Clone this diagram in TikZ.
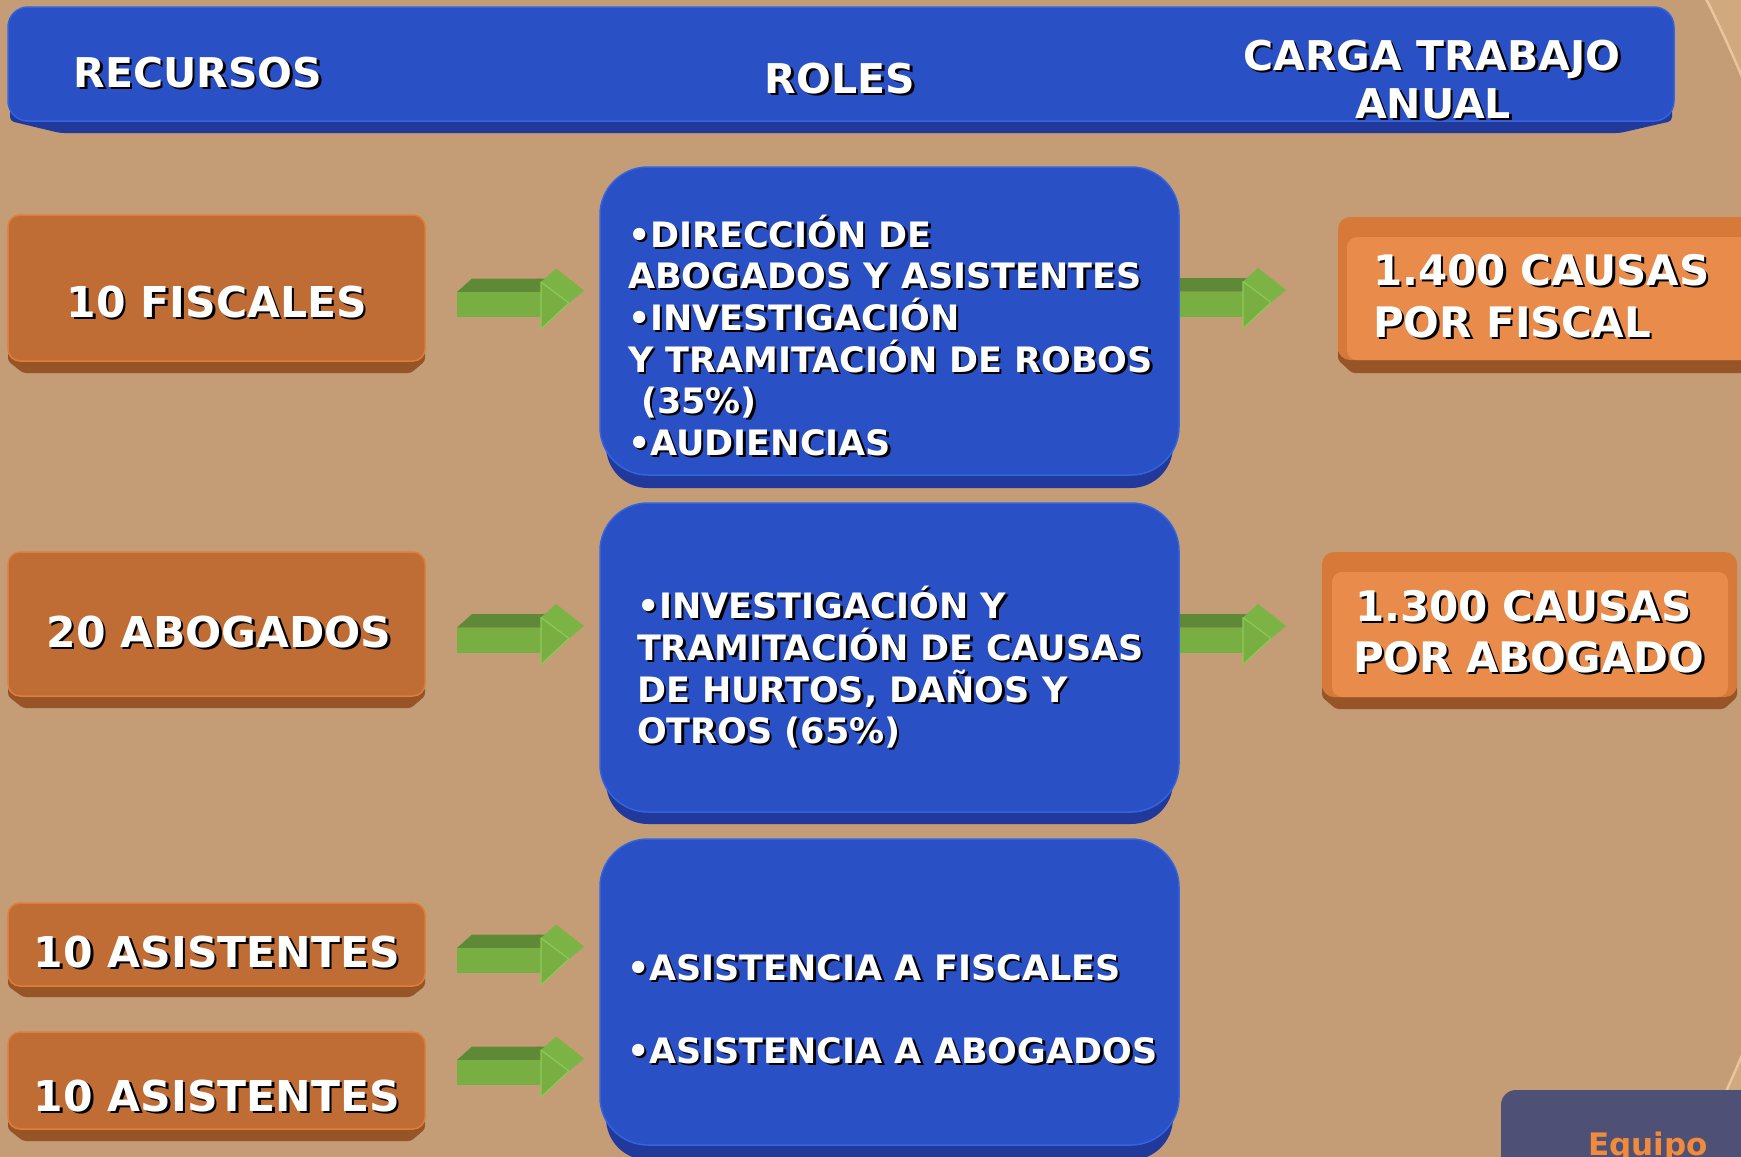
\documentclass[tikz,border=0pt]{standalone}
\usepackage{fontspec}
\setmainfont{DejaVu Sans}
\definecolor{bg}{HTML}{C49C76}
\definecolor{hblue}{HTML}{2A50C5}
\definecolor{hbluedark}{HTML}{21399A}
\definecolor{hblueedge}{HTML}{3463DF}
\definecolor{obox}{HTML}{BF6C35}
\definecolor{oboxdark}{HTML}{975427}
\definecolor{oboxedge}{HTML}{DE7E3A}
\definecolor{lbox}{HTML}{E98C4B}
\definecolor{lboxband}{HTML}{D77A39}
\definecolor{garfront}{HTML}{79AE42}
\definecolor{gartop}{HTML}{5E8A37}
\definecolor{garside}{HTML}{7CB345}
\definecolor{garedge}{HTML}{8DCA54}
\definecolor{eqbox}{HTML}{4F5075}
\definecolor{eqtext}{HTML}{F08A3C}
\definecolor{ringband}{HTML}{D1A97F}
\definecolor{ringline}{HTML}{E8C69D}
\tikzset{
  every node/.style={inner sep=0pt, outer sep=0pt},
  face/.style={anchor=north west, inner sep=0pt, outer sep=0pt},
  hdrtxt/.style={font=\bfseries\fontsize{41}{48}\selectfont, text=white, anchor=base},
  lbltxt/.style={font=\bfseries\fontsize{42.5}{50}\selectfont, text=white, anchor=base},
  roltxt/.style={font=\bfseries\fontsize{35}{41.6}\selectfont, text=white, anchor=base west},
  loadtxt/.style={font=\bfseries\fontsize{42}{52}\selectfont, text=white, anchor=base west},
  obface/.style={face, fill=obox, draw=oboxedge, line width=1.5pt, rounded corners=12pt},
  bbface/.style={face, fill=hblue, draw=hblueedge, line width=1.5pt, rounded corners=48pt},
  lbface/.style={face, fill=lboxband, rounded corners=12pt},
  arrow3d/.pic={
    \fill[gartop] (0,-12.5) -- (15,-26) -- (99,-26) -- (84,-12.5) -- cycle;
    \fill[garfront] (0,-12.5) rectangle (85,12.5);
    \fill[garside] (84,-22.5) -- (99,-36) -- (127,-14) -- (112,-1.5) -- cycle;
    \fill[garfront, draw=garedge, line width=1.2pt, line join=round] (84,-22.5) -- (112,-1.5) -- (84,24.5) -- cycle;
  }
}
\newcommand\shnode[4]{%
  \node[#1, text=black, xshift=2.5pt, yshift=-2.5pt] at #3 {#4};
  \node[#1] (#2) at #3 {#4};
}
\begin{document}
\begin{tikzpicture}[x=1pt,y=-1pt]
\useasboundingbox (0,0) rectangle (1741,1157);
\clip (0,0) rectangle (1741,1157);
\fill[bg] (0,0) rectangle (1741,1157);
% decorative ring at right edge
\fill[ringband, even odd rule] (575,566) circle[radius=1340pt] (575,566) circle[radius=1265pt];
\draw[ringline, line width=2.5pt] (575,566) circle[radius=1265pt];

% header bar
\fill[hbluedark, rounded corners=4pt] (10,100) -- (1672,100) -- (1672,121) -- (1620,133) -- (60,133) -- (10,121) -- cycle;
\node[face, fill=hblue, draw=hblueedge, line width=1.5pt, rounded corners=20pt, minimum width=1666pt, minimum height=114pt] (hdr) at (8,7) {};

% arrows (right ones pass under the role boxes)
\coordinate (ar1) at (1159,304);
\coordinate (ar2) at (1159,640);
\coordinate (al1) at (457,304.5);
\coordinate (al2) at (457,640);
\coordinate (al3) at (457,960.5);
\coordinate (al4) at (457,1072.5);
\pic at (ar1) {arrow3d};
\pic at (ar2) {arrow3d};
\pic at (al1) {arrow3d};
\pic at (al2) {arrow3d};
\pic at (al3) {arrow3d};
\pic at (al4) {arrow3d};

% left resource boxes
\fill[oboxdark, rounded corners=3pt] (8,351) -- (425,351) -- (425,361) -- (411,373) -- (23,373) -- (8,361) -- cycle;
\node[obface, minimum width=417pt, minimum height=146pt] (b1) at (8,215) {};
\fill[oboxdark, rounded corners=3pt] (8,686) -- (425,686) -- (425,696) -- (411,708) -- (23,708) -- (8,696) -- cycle;
\node[obface, minimum width=417pt, minimum height=144pt] (b2) at (8,552) {};
\fill[oboxdark, rounded corners=3pt] (8,976) -- (425,976) -- (425,986) -- (411,997) -- (23,997) -- (8,986) -- cycle;
\node[obface, minimum width=417pt, minimum height=83pt] (b3) at (8,903) {};
\fill[oboxdark, rounded corners=3pt] (8,1119) -- (425,1119) -- (425,1129) -- (411,1141) -- (23,1141) -- (8,1129) -- cycle;
\node[obface, minimum width=417pt, minimum height=97pt] (b4) at (8,1032) {};

% role boxes
\fill[hbluedark, rounded corners=42pt] (606,400) rectangle (1173,488);
\node[bbface, minimum width=579pt, minimum height=308pt] (r1) at (600,167) {};
\fill[hbluedark, rounded corners=42pt] (606,740) rectangle (1173,824);
\node[bbface, minimum width=579pt, minimum height=309pt] (r2) at (600,503) {};
\fill[hbluedark, rounded corners=42pt] (606,1070) rectangle (1173,1160);
\node[bbface, minimum width=579pt, minimum height=306pt] (r3) at (600,839) {};

% workload boxes
\fill[oboxdark, rounded corners=3pt] (1338,350) -- (1760,350) -- (1760,373) -- (1352,373) -- (1338,360) -- cycle;
\node[lbface, minimum width=430pt, minimum height=143pt] (c1) at (1338,217) {};
\fill[lbox, rounded corners=10pt] (1347,237) rectangle (1770,360);
\fill[oboxdark, rounded corners=3pt] (1322,686) -- (1737,686) -- (1737,697) -- (1724,709) -- (1336,709) -- (1322,697) -- cycle;
\node[lbface, minimum width=415pt, minimum height=145pt] (c2) at (1322,552) {};
\fill[lbox, rounded corners=10pt] (1332,572) rectangle (1728,697);

% Equipo tab
\node[face, fill=eqbox, rounded corners=15pt, minimum width=280pt, minimum height=100pt] (eq) at (1501,1090) {};
\node[font=\bfseries\fontsize{31}{36}\selectfont, text=eqtext, anchor=base west] (eqt) at (1588,1155) {Equipo};

% header texts
\shnode{hdrtxt}{tRec}{(198,87)}{RECURSOS}
\shnode{hdrtxt}{tRol}{(840,93)}{ROLES}
\shnode{hdrtxt}{tCar}{(1432,70)}{CARGA TRABAJO}
\shnode{hdrtxt}{tAnu}{(1433,118)}{ANUAL}

% resource texts
\shnode{lbltxt}{tb1}{(217,317)}{10 FISCALES}
\shnode{lbltxt}{tb2}{(219,647)}{20 ABOGADOS}
\shnode{lbltxt}{tb3}{(217,967)}{10 ASISTENTES}
\shnode{lbltxt}{tb4}{(217,1111)}{10 ASISTENTES}

% role texts
\shnode{roltxt}{tr1a}{(628,247)}{•DIRECCIÓN DE}
\shnode{roltxt}{tr1b}{(628,288)}{ABOGADOS Y ASISTENTES}
\shnode{roltxt}{tr1c}{(628,330)}{•INVESTIGACIÓN}
\shnode{roltxt}{tr1d}{(628,372)}{Y TRAMITACIÓN DE ROBOS}
\shnode{roltxt}{tr1e}{(641,413)}{(35\%)}
\shnode{roltxt}{tr1f}{(628,455)}{•AUDIENCIAS}
\shnode{roltxt}{tr2a}{(637,618)}{•INVESTIGACIÓN Y}
\shnode{roltxt}{tr2b}{(637,660)}{TRAMITACIÓN DE CAUSAS}
\shnode{roltxt}{tr2c}{(637,702)}{DE HURTOS, DAÑOS Y}
\shnode{roltxt}{tr2d}{(637,743)}{OTROS (65\%)}
\shnode{roltxt}{tr3a}{(627,980)}{•ASISTENCIA A FISCALES}
\shnode{roltxt}{tr3b}{(627,1063)}{•ASISTENCIA A ABOGADOS}

% workload texts
\shnode{loadtxt}{tc1a}{(1373,285)}{1.400 CAUSAS}
\shnode{loadtxt}{tc1b}{(1373,337)}{POR FISCAL}
\shnode{loadtxt}{tc2a}{(1355,621)}{1.300 CAUSAS}
\shnode{loadtxt}{tc2b}{(1353,672)}{POR ABOGADO}
\end{tikzpicture}
\end{document}
